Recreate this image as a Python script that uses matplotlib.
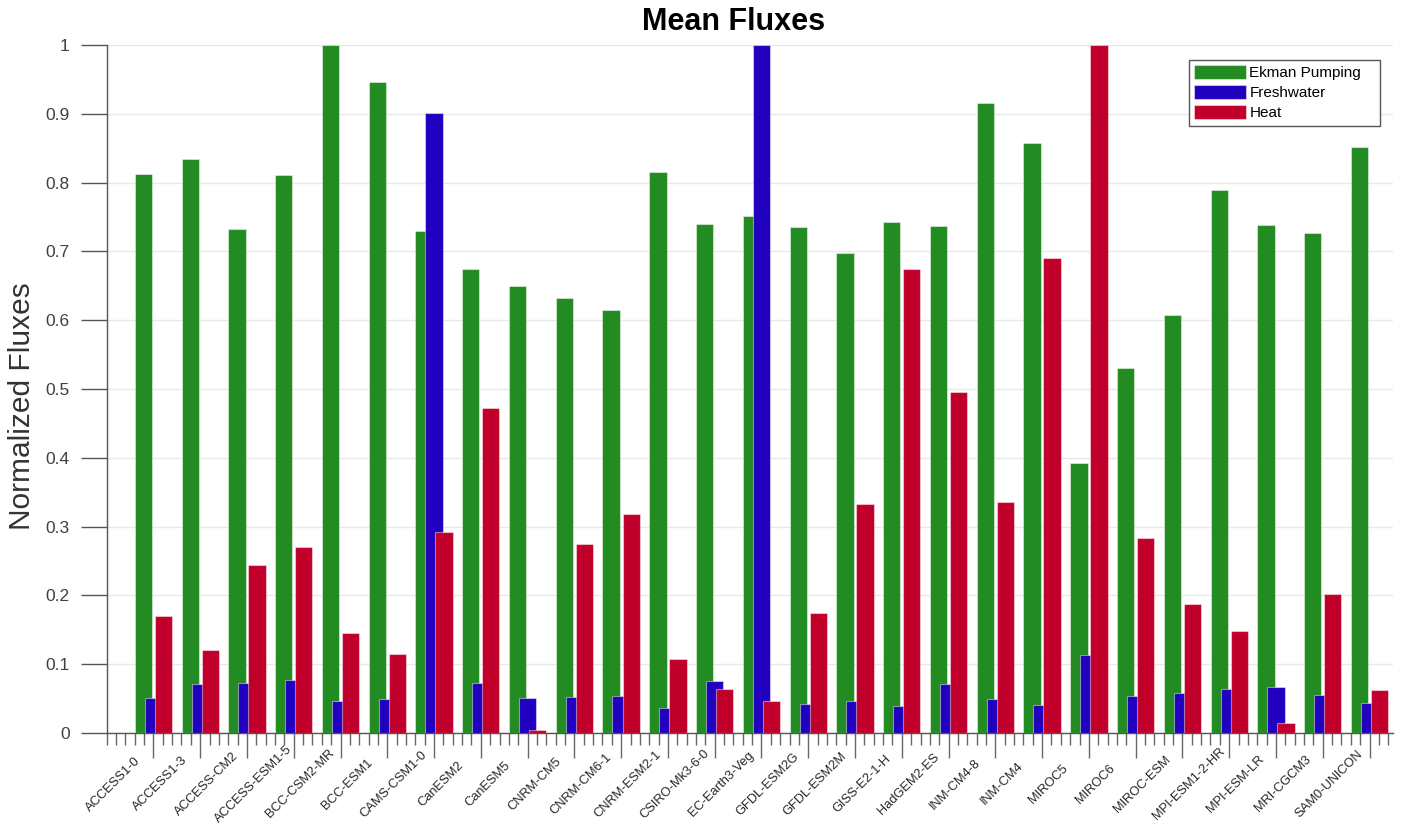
import numpy as np
import matplotlib
matplotlib.use("Agg")
import matplotlib.pyplot as plt
import matplotlib.transforms as mtransforms

plt.rcParams['font.family'] = ['Liberation Sans', 'DejaVu Sans']

models = ["ACCESS1-0", "ACCESS1-3", "ACCESS-CM2", "ACCESS-ESM1-5", "BCC-CSM2-MR",
          "BCC-ESM1", "CAMS-CSM1-0", "CanESM2", "CanESM5", "CNRM-CM5", "CNRM-CM6-1",
          "CNRM-ESM2-1", "CSIRO-Mk3-6-0", "EC-Earth3-Veg", "GFDL-ESM2G", "GFDL-ESM2M",
          "GISS-E2-1-H", "HadGEM2-ES", "INM-CM4-8", "INM-CM4", "MIROC5", "MIROC6",
          "MIROC-ESM", "MPI-ESM1-2-HR", "MPI-ESM-LR", "MRI-CGCM3", "SAM0-UNICON"]

ekman = [0.813, 0.834, 0.732, 0.811, 1.000, 0.946, 0.729, 0.675, 0.649, 0.632, 0.615,
         0.815, 0.740, 0.752, 0.736, 0.698, 0.742, 0.737, 0.915, 0.857, 0.393, 0.530,
         0.607, 0.789, 0.739, 0.727, 0.851]
freshwater = [0.051, 0.071, 0.073, 0.077, 0.046, 0.049, 0.901, 0.073, 0.051, 0.052, 0.054,
              0.036, 0.076, 1.000, 0.042, 0.046, 0.039, 0.071, 0.049, 0.041, 0.114, 0.054,
              0.058, 0.064, 0.067, 0.055, 0.044]
heat = [0.170, 0.121, 0.244, 0.270, 0.145, 0.115, 0.292, 0.472, 0.004, 0.275, 0.318,
        0.107, 0.064, 0.047, 0.175, 0.333, 0.674, 0.496, 0.336, 0.690, 1.000, 0.284,
        0.188, 0.148, 0.014, 0.202, 0.062]

series = [("Ekman Pumping", ekman, "#228B22"),
          ("Freshwater", freshwater, "#2200C0"),
          ("Heat", heat, "#C0002A")]

fig = plt.figure(figsize=(14.05, 8.25), dpi=100)
ax = fig.add_axes([0.0759, 0.1115, 0.9155, 0.834])

x = np.arange(1, len(models) + 1)
offsets = [-0.214, 0.0, 0.214]
width = 0.37
for (name, vals, col), off in zip(series, offsets):
    ax.bar(x + off, vals, width=width, color=col, edgecolor=(1, 1, 1, 0.45),
           linewidth=0.8, label=name, zorder=3)

ax.set_xlim(0, 27.5)
ax.set_ylim(0, 1)
ax.set_yticks(np.round(np.arange(0, 1.01, 0.1), 1))
ax.set_yticklabels(["0"] + [f"{v:.1f}" for v in np.arange(0.1, 0.95, 0.1)] + ["1"])
ax.grid(axis='y', color='#e8e8e8', linewidth=1.0, zorder=0)

# major ticks at each model, minor ticks every 0.2
ax.set_xticks(x)
ax.set_xticklabels([])
ax.set_xticks(np.arange(0, 27.45, 0.2), minor=True)

# rotated model names, each centred below-left of its major tick
shift = mtransforms.ScaledTranslation(-40 / 100, -51 / 100, fig.dpi_scale_trans)
label_tf = ax.get_xaxis_transform() + shift
for xi, name in zip(x, models):
    ax.text(xi, 0, name, transform=label_tf, rotation=45, rotation_mode='anchor',
            ha='center', va='center', fontsize=9.3, color='#262626')

ax.tick_params(axis='y', direction='out', length=18.7, width=1.0, color='#555555',
               labelsize=12.5, labelcolor='#404040', pad=8)
ax.tick_params(axis='x', which='major', direction='out', length=18, width=1.0,
               color='#666666')
ax.tick_params(axis='x', which='minor', direction='out', length=8.6, width=1.0,
               color='#666666')

for side in ['top', 'right']:
    ax.spines[side].set_visible(False)
for side in ['left', 'bottom']:
    ax.spines[side].set_color('#555555')
    ax.spines[side].set_linewidth(1.0)

ax.set_ylabel("Normalized Fluxes", fontsize=21.5, color='#333333')
ax.yaxis.set_label_coords(-0.0550, 0.475)
fig.text(734 / 1405, 1 - 22 / 825, "Mean Fluxes", fontsize=22, fontweight='bold',
         ha='center', va='center', color='black')

leg = ax.legend(loc='upper left',
                bbox_to_anchor=(1189 / 1405, 1 - 125 / 825, 191 / 1405, 65 / 825),
                bbox_transform=fig.transFigure, mode='expand', fontsize=11,
                frameon=True, fancybox=False, edgecolor='#555555', framealpha=1,
                handlelength=3.4, handleheight=1.0, handletextpad=0.2,
                borderpad=0.35, labelspacing=0.32, borderaxespad=0)
leg.get_frame().set_linewidth(1.0)

fig.savefig("out.png", dpi=100)
